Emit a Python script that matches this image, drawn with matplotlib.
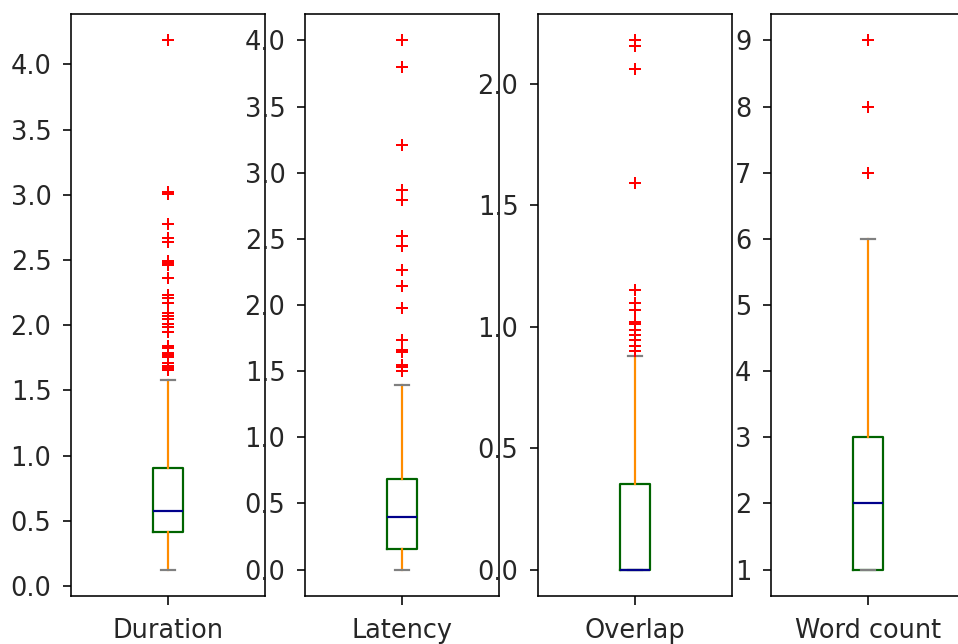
import matplotlib
matplotlib.use('Agg')
import matplotlib.pyplot as plt

# box plot summary per column
labels = ['Duration', 'Latency', 'Overlap', 'Word count']
q1 = [0.412, 0.156, 0.0, 1.0]
med = [0.574, 0.401, 0.0, 2.0]
q3 = [0.906, 0.684, 0.351, 3.0]
whislo = [0.126, 0.0, 0.0, 1.0]
whishi = [1.580, 1.393, 0.878, 6.0]

duration_out = [4.184, 3.02, 3.008, 2.777, 2.668, 2.642, 2.49, 2.475, 2.46, 2.361,
                2.23, 2.21, 2.169, 2.097, 2.071, 2.046, 2.008, 1.985, 1.951,
                1.841, 1.823, 1.785, 1.772, 1.759, 1.708, 1.685, 1.67, 1.657]
latency_out = [4.0, 3.797, 3.212, 2.871, 2.796, 2.523, 2.447, 2.266, 2.145,
               1.976, 1.736, 1.66, 1.643, 1.547, 1.534, 1.50]
overlap_out = [2.18, 2.157, 2.062, 1.591, 1.152, 1.097, 1.07, 1.019, 1.012,
               0.988, 0.968, 0.944, 0.923, 0.902]
wordcount_out = [9, 8, 7]
fliers = [duration_out, latency_out, overlap_out, wordcount_out]

W, H = 958, 644
fig = plt.figure(figsize=(W / 144, H / 144), dpi=144)

lefts = [71, 305, 538, 771]  # pixel left edge of each panel
for i, name in enumerate(labels):
    ax = fig.add_axes([lefts[i] / W, 48 / H, 194 / W, 582 / H])
    stats = [dict(label=name, med=med[i], q1=q1[i], q3=q3[i],
                  whislo=whislo[i], whishi=whishi[i], fliers=fliers[i])]
    ax.bxp(stats, widths=0.15,
           boxprops=dict(color='darkgreen', linewidth=1.1),
           whiskerprops=dict(color='darkorange', linewidth=1.1),
           medianprops=dict(color='darkblue', linewidth=1.1),
           capprops=dict(color='gray', linewidth=1.1),
           flierprops=dict(marker='+', markeredgecolor='red', linestyle='none'))
    ax.tick_params(labelsize=12.8, labelcolor='#262626')
    ax.tick_params(axis='y', length=3.8, pad=6)
    ax.tick_params(axis='x', length=4.5, pad=6.5)

fig.savefig('out.png', dpi=144)
